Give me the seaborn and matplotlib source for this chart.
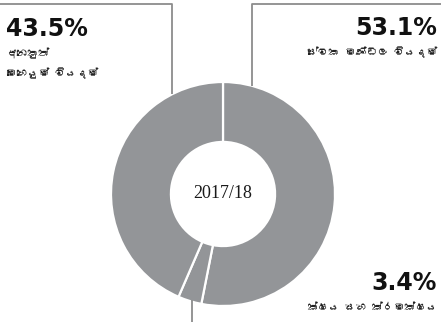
import numpy as np
import matplotlib
matplotlib.use("Agg")
import matplotlib.pyplot as plt
from matplotlib import font_manager
from matplotlib.ft2font import FT2Font
import seaborn as sns

# Expenditure shares, 2017/18
categories = ["සේවක මණ්ඩල වියදම්", "ක්ෂය සහ ක්රමක්ෂය", "අනෙකුත්\nමෙහෙයුම් වියදම්"]
shares = [53.1, 3.4, 43.5]
value_labels = ["53.1%", "3.4%", "43.5%"]
year_label = "2017/18"

sns.set_theme(style="white")


def find_family(sample):
    """Return an installed family that covers every character of sample."""
    codes = {ord(c) for c in sample if not c.isspace() and ord(c) > 127}
    for entry in font_manager.fontManager.ttflist:
        try:
            cmap = FT2Font(entry.fname).get_charmap()
        except Exception:
            continue
        if codes.issubset(cmap.keys()):
            return entry.name
    return None


sinhala = find_family("".join(categories))
text_family = [sinhala, "DejaVu Sans"] if sinhala else ["DejaVu Sans"]
plt.rcParams["font.family"] = text_family

ring_color = sns.color_palette(["#939598"])[0]
line_color = "#8c8c8c"

W, H = 441, 322
fig = plt.figure(figsize=(W / 100, H / 100), dpi=100)
fig.patch.set_facecolor("white")

# pie axes: centre (223, 194) px from top-left, radius 112 px
cx, cy, r = 223, 194, 112
ax = fig.add_axes([(cx - r) / W, (H - cy - r) / H, 2 * r / W, 2 * r / H])

wedges, _ = ax.pie(
    shares,
    colors=[ring_color] * len(shares),
    startangle=90,
    counterclock=False,
    radius=1.0,
    wedgeprops=dict(width=0.535, edgecolor="white", linewidth=1.6),
)
ax.set_xlim(-1, 1)
ax.set_ylim(-1, 1)
ax.set_aspect("equal")
ax.axis("off")

ax.text(0, 0, year_label, ha="center", va="center", fontsize=13,
        family=["Liberation Serif", "DejaVu Serif"], color="#1a1a1a")

# leader lines, in axes data units (1 unit = r px)
top_y = (cy - 4) / r
left_x = -cx / r
right_x = (W - cx) / r
bottom_y = -(H - cy) / r


def ring_point(angle_deg):
    a = np.deg2rad(angle_deg)
    return np.cos(a), np.sin(a)


lkw = dict(color=line_color, lw=1.3, clip_on=False, solid_capstyle="butt")
# staff costs (right)
px, py = ring_point(75)
ax.plot([px, px, right_x], [py, top_y, top_y], **lkw)
# other operating expenses (left)
px, py = ring_point(117)
ax.plot([px, px, left_x], [py, top_y, top_y], **lkw)
# depreciation (bottom)
px, py = ring_point(-106)
ax.plot([px, px], [py * 0.985, bottom_y], **lkw)

num_kw = dict(fontsize=17, fontweight="bold", family=["DejaVu Sans"], color="#111111")
cat_kw = dict(fontsize=7.8, color="#222222", family=text_family)

fig.text(6 / W, 1 - 29 / H, value_labels[2], ha="left", va="center", **num_kw)
fig.text(6 / W, 1 - 53 / H, categories[2].split("\n")[0], ha="left", va="center", **cat_kw)
fig.text(6 / W, 1 - 73 / H, categories[2].split("\n")[1], ha="left", va="center", **cat_kw)

fig.text(437 / W, 1 - 28 / H, value_labels[0], ha="right", va="center", **num_kw)
fig.text(437 / W, 1 - 52 / H, categories[0], ha="right", va="center", **cat_kw)

fig.text(437 / W, 1 - 283.5 / H, value_labels[1], ha="right", va="center", **num_kw)
fig.text(437 / W, 1 - 307 / H, categories[1], ha="right", va="center", **cat_kw)

fig.savefig("out.png", dpi=100, facecolor="white")
